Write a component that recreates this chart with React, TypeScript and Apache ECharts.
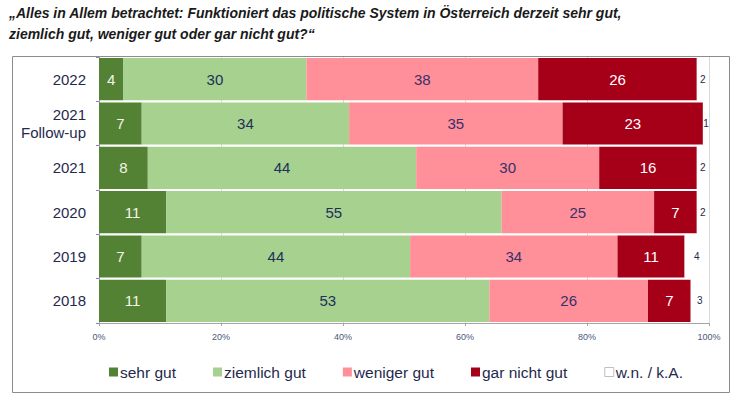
import React, { useEffect, useRef } from "react";
import * as echarts from "echarts";

const categories = ["2022", "2021\nFollow-up", "2021", "2020", "2019", "2018"];
const sehrGut = [4, 7, 8, 11, 7, 11];
const ziemlichGut = [30, 34, 44, 55, 44, 53];
const wenigerGut = [38, 35, 30, 25, 34, 26];
const garNichtGut = [26, 23, 16, 7, 11, 7];
const wnKA = [2, 1, 2, 2, 4, 3];
const xTicks = [0, 20, 40, 60, 80, 100];

const titleText =
  "„Alles in Allem betrachtet: Funktioniert das politische System in Österreich derzeit sehr gut,\nziemlich gut, weniger gut oder gar nicht gut?“";

export default function App() {
  const ref = useRef<HTMLDivElement>(null);
  useEffect(() => {
    if (!ref.current) return;
    const chart = echarts.init(ref.current, null, { renderer: "svg" });
    const font = "Liberation Sans, Arial, sans-serif";
    const mk = (name: string, data: number[], color: string, labelColor: string, fs = 15) => ({
      name,
      type: "bar",
      stack: "total",
      data,
      barCategoryGap: "5%",
      itemStyle: { color },
      label: {
        show: true,
        position: "inside",
        color: labelColor,
        fontSize: fs,
        fontFamily: font,
      },
    });
    chart.setOption({
      animation: false,
      textStyle: { fontFamily: font },
      title: {
        text: titleText,
        left: 9,
        top: 2,
        padding: 0,
        textStyle: {
          fontFamily: font,
          fontSize: 14,
          fontWeight: "bold",
          fontStyle: "italic",
          color: "#1a1a1a",
          lineHeight: 21,
        },
      },
      graphic: [
        {
          type: "rect",
          shape: { x: 12.5, y: 56.5, width: 717, height: 336 },
          style: { fill: "none", stroke: "#8c8c8c", lineWidth: 1 },
          z: -10,
        },
      ],
      legend: {
        left: 104,
        top: 359,
        itemWidth: 9,
        itemHeight: 9,
        itemGap: 37,
        textStyle: { fontSize: 15.5, color: "#1f2a4d", fontFamily: font, padding: [0, 0, 0, -3] },
        data: [
          { name: "sehr gut", icon: "rect" },
          { name: "ziemlich gut", icon: "rect" },
          { name: "weniger gut", icon: "rect" },
          { name: "gar nicht gut", icon: "rect" },
          {
            name: "w.n. / k.A.",
            icon: "rect",
            itemStyle: { color: "#ffffff", borderColor: "#bfbfbf", borderWidth: 1 },
          },
        ],
      },
      grid: { left: 99, right: 28, top: 57, bottom: 76, containLabel: false },
      xAxis: {
        type: "value",
        min: 0,
        max: 100,
        interval: 20,
        axisLine: { show: true, lineStyle: { color: "#a6a6a6" } },
        axisTick: { show: true, length: 3, lineStyle: { color: "#a6a6a6" } },
        splitLine: { show: true, lineStyle: { color: "#d9d9d9" } },
        axisLabel: {
          formatter: (v: number) => (xTicks.includes(v) ? v + "%" : ""),
          fontSize: 9,
          color: "#4a5878",
          margin: 9,
        },
      },
      yAxis: {
        type: "category",
        inverse: true,
        data: categories,
        axisLine: { show: true, lineStyle: { color: "#a6a6a6" } },
        axisTick: { show: true, length: 3, lineStyle: { color: "#8e7cc3" } },
        axisLabel: {
          fontSize: 15,
          color: "#1f2a4d",
          margin: 13,
          lineHeight: 18,
          align: "right",
        },
      },
      series: [
        mk("sehr gut", sehrGut, "#548235", "#f4f4e8"),
        mk("ziemlich gut", ziemlichGut, "#a6d18e", "#1f2f5a"),
        mk("weniger gut", wenigerGut, "#ff8f99", "#3a2f6a"),
        mk("gar nicht gut", garNichtGut, "#a50018", "#ffffff"),
        mk("w.n. / k.A.", wnKA, "#ffffff", "#1f2a4d", 10),
      ],
    });
    return () => chart.dispose();
  }, []);
  return <div ref={ref} style={{ width: 737, height: 399, position: "absolute", left: 0, top: 0 }} />;
}
